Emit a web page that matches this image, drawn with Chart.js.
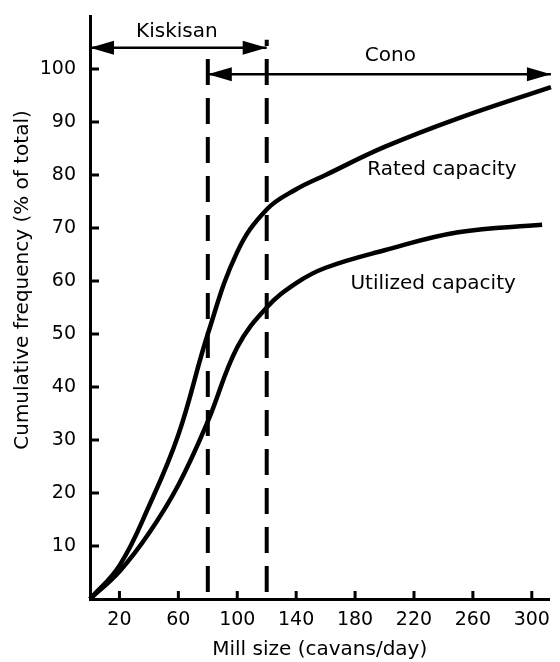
<!DOCTYPE html>
<html>
<head>
<meta charset="utf-8">
<script src="https://cdn.jsdelivr.net/npm/chart.js@4"></script>
<style>
  html, body { margin: 0; padding: 0; background: #fff; }
  #wrap { width: 560px; height: 662px; position: relative; }
</style>
</head>
<body>
<div id="wrap"><canvas id="myChart"></canvas></div>
<script>
// values
const ratedX = [0, 20, 40, 60, 80, 100, 120, 140, 160, 200, 250, 313];
const ratedY = [0, 6.3, 17.5, 31, 50, 65.5, 73.5, 77.3, 80, 85.3, 90.7, 96.6];
const utilX = [0, 20, 40, 60, 80, 100, 120, 140, 160, 200, 250, 307];
const utilY = [0, 5.2, 12.4, 21.5, 33.5, 47.5, 55, 59.6, 62.5, 65.8, 69.2, 70.6];

const xTicks = [20, 60, 100, 140, 180, 220, 260, 300];
const yTicks = [10, 20, 30, 40, 50, 60, 70, 80, 90, 100];

// mill type ranges (cavans/day) shown with arrows
const kiskisanRange = [0, 120];
const conoRange = [80, 313];
const dividerX = [80, 120];

const FONT = "'DejaVu Sans', sans-serif";

const pts = (xs, ys) => xs.map((x, i) => ({ x: x, y: ys[i] }));

// tick marks pointing inward, arrowheads and text notes
const extras = {
  id: 'extras',
  afterDatasetsDraw(chart) {
    const ctx = chart.ctx;
    const xs = chart.scales.x, ys = chart.scales.y;
    const area = chart.chartArea;
    ctx.save();
    ctx.strokeStyle = '#000';
    ctx.fillStyle = '#000';
    ctx.lineWidth = 3;
    yTicks.forEach(v => {
      const py = ys.getPixelForValue(v);
      ctx.beginPath(); ctx.moveTo(area.left, py); ctx.lineTo(area.left + 9, py); ctx.stroke();
    });
    xTicks.forEach(v => {
      const px = xs.getPixelForValue(v);
      ctx.beginPath(); ctx.moveTo(px, area.bottom); ctx.lineTo(px, area.bottom - 8); ctx.stroke();
    });

    // arrowheads on the two range lines
    chart.data.datasets.forEach((ds, i) => {
      if (!ds.arrow) return;
      const d = chart.getDatasetMeta(i).data;
      const a = d[0], b = d[d.length - 1];
      [[a, -1], [b, 1]].forEach(([p, dir]) => {
        ctx.beginPath();
        ctx.moveTo(p.x, p.y);
        ctx.lineTo(p.x - dir * 24, p.y - 7);
        ctx.lineTo(p.x - dir * 24, p.y + 7);
        ctx.closePath();
        ctx.fill();
      });
    });

    ctx.font = '20px ' + FONT;
    ctx.textAlign = 'center';
    ctx.textBaseline = 'middle';
    ctx.fillText('Kiskisan', xs.getPixelForValue(59), ys.getPixelForValue(107));
    ctx.fillText('Cono', xs.getPixelForValue(204), ys.getPixelForValue(102.5));
    ctx.fillText('Rated capacity', xs.getPixelForValue(239), ys.getPixelForValue(81));
    ctx.fillText('Utilized capacity', xs.getPixelForValue(233), ys.getPixelForValue(59.4));

    // y axis title sits a bit above the middle in the original
    ctx.translate(23, 280);
    ctx.rotate(-Math.PI / 2);
    ctx.fillText('Cumulative frequency (% of total)', 0, 0);
    ctx.restore();
  }
};

const ctx = document.getElementById('myChart').getContext('2d');
const myChart = new Chart(ctx, {
  type: 'line',
  data: {
    datasets: [
      { label: 'Rated capacity', data: pts(ratedX, ratedY), borderColor: '#000', borderWidth: 4.5,
        pointRadius: 0, tension: 0.4, clip: false },
      { label: 'Utilized capacity', data: pts(utilX, utilY), borderColor: '#000', borderWidth: 4.5,
        pointRadius: 0, tension: 0.4, clip: false },
      { label: 'divider 80', data: [{ x: dividerX[0], y: 1.3 }, { x: dividerX[0], y: 104 }],
        borderColor: '#000', borderWidth: 4, borderDash: [26, 13], pointRadius: 0, clip: false },
      { label: 'divider 120', data: [{ x: dividerX[1], y: 1.3 }, { x: dividerX[1], y: 105.5 }],
        borderColor: '#000', borderWidth: 4, borderDash: [26, 13], pointRadius: 0, clip: false },
      { label: 'Kiskisan', arrow: true, data: [{ x: kiskisanRange[0], y: 104 }, { x: kiskisanRange[1], y: 104 }],
        borderColor: '#000', borderWidth: 2.5, pointRadius: 0, clip: false },
      { label: 'Cono', arrow: true, data: [{ x: conoRange[0], y: 99 }, { x: conoRange[1], y: 99 }],
        borderColor: '#000', borderWidth: 2.5, pointRadius: 0, clip: false }
    ]
  },
  options: {
    responsive: true,
    maintainAspectRatio: false,
    animation: false,
    layout: { padding: { top: 16, right: 2, left: 0, bottom: 0 } },
    plugins: { legend: { display: false }, tooltip: { enabled: false } },
    scales: {
      x: {
        type: 'linear', min: 0, max: 312,
        afterBuildTicks: s => { s.ticks = xTicks.map(v => ({ value: v })); },
        afterFit: s => { s.height = 63; },
        grid: { display: false, drawTicks: false },
        border: { color: '#000', width: 3 },
        ticks: { color: '#000', font: { family: FONT, size: 19 }, padding: 10, maxRotation: 0, autoSkip: false },
        title: { display: true, text: 'Mill size (cavans/day)', color: '#000', font: { family: FONT, size: 20 }, padding: 0 }
      },
      y: {
        min: 0, max: 110,
        afterBuildTicks: s => { s.ticks = yTicks.map(v => ({ value: v })); },
        // fixed width, and no extra top room for the 100 label
        afterFit: s => { s.width = 90; s.paddingTop = 0; s.paddingBottom = 0; },
        grid: { display: false, drawTicks: false },
        border: { color: '#000', width: 3 },
        ticks: { color: '#000', font: { family: FONT, size: 19 }, padding: 14 }
      }
    }
  },
  plugins: [extras]
});
</script>
</body>
</html>
